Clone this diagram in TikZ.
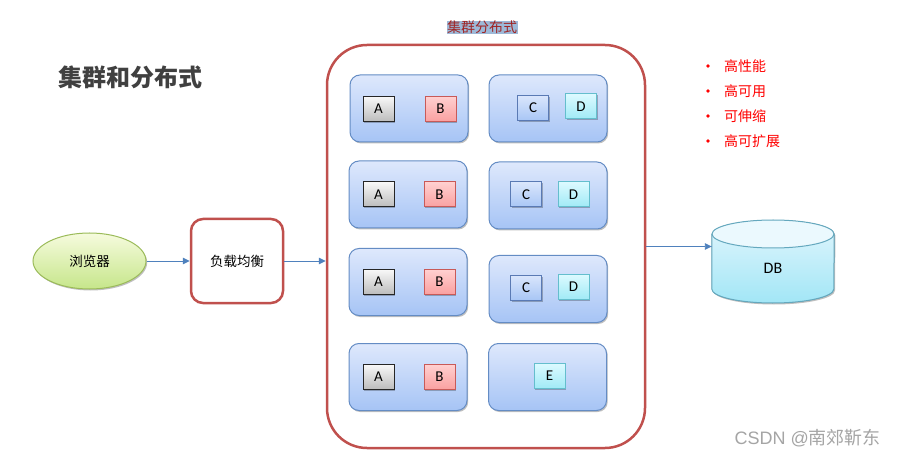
\documentclass[tikz,border=0pt]{standalone}
\usepackage{fontspec}
\setmainfont{Noto Sans CJK SC}
\newfontfamily\latf{Carlito}
\newfontfamily\wmf{Liberation Sans}
\usetikzlibrary{arrows.meta,shadows,shapes.geometric}
\definecolor{redB}{RGB}{192,80,77}
\definecolor{srvT}{RGB}{222,232,252}
\definecolor{srvBot}{RGB}{166,196,245}
\definecolor{srvB}{RGB}{100,140,196}
\definecolor{aT}{RGB}{248,248,248}
\definecolor{aBot}{RGB}{188,188,188}
\definecolor{bT}{RGB}{255,208,208}
\definecolor{bBot}{RGB}{250,160,160}
\definecolor{bB}{RGB}{200,90,88}
\definecolor{cT}{RGB}{218,230,252}
\definecolor{cBot}{RGB}{168,198,245}
\definecolor{cB}{RGB}{90,122,180}
\definecolor{dT}{RGB}{220,250,255}
\definecolor{dBot}{RGB}{160,234,246}
\definecolor{dB}{RGB}{100,190,205}
\definecolor{gT}{RGB}{246,251,222}
\definecolor{gBot}{RGB}{198,230,138}
\definecolor{gB}{RGB}{155,187,89}
\definecolor{dbT}{RGB}{226,246,253}
\definecolor{dbBot}{RGB}{162,230,246}
\definecolor{dbB}{RGB}{100,168,190}
\definecolor{arrowB}{RGB}{79,129,189}
\definecolor{hiBlue}{RGB}{157,185,216}
\definecolor{hiText}{RGB}{160,36,36}
\definecolor{titleG}{RGB}{64,64,64}
\definecolor{wmG}{RGB}{165,165,165}
\begin{document}
\begin{tikzpicture}[x=1pt,y=-1pt,
  soft/.style={drop shadow={shadow xshift=1.2pt,shadow yshift=-1.5pt,opacity=0.25,fill=black}},
  server/.style={soft,draw=srvB,line width=1,rounded corners=10,minimum width=118,minimum height=67,top color=srvT,bottom color=srvBot},
  sbox/.style={soft,line width=1,minimum width=31,minimum height=25,inner sep=0,font=\latf\fontsize{15}{16}\selectfont},
  boxA/.style={sbox,draw=black!85,top color=aT,bottom color=aBot},
  boxB/.style={sbox,draw=bB,top color=bT,bottom color=bBot},
  boxC/.style={sbox,draw=cB,top color=cT,bottom color=cBot},
  boxD/.style={sbox,draw=dB,top color=dT,bottom color=dBot},
  conn/.style={draw=arrowB,line width=0.9,-{Triangle[length=7pt,width=6.5pt]}},
  cn/.style={font=\fontsize{13.5}{15}\selectfont},
  bul/.style={circle,fill=red,inner sep=0,minimum size=3.8},
  bultext/.style={anchor=west,text=red,font=\fontsize{14}{16}\selectfont,inner sep=0}
]
\useasboundingbox (0,0) rectangle (897,457);
\fill[white] (0,0) rectangle (897,457);

% title
\node[font=\bfseries\fontsize{24}{26}\selectfont,text=titleG] (title) at (130.5,77) {集群和分布式};

% container
\node[draw=redB,line width=2.5,rounded corners=40,minimum width=318,minimum height=403] (cont) at (486,246.5) {};
\node[fill=hiBlue,text=hiText,inner sep=0.5,font=\fontsize{14}{15}\selectfont] (ctitle) at (482,27.5) {集群分布式};

% servers
\node[server] (s1l) at (409,108.5) {};
\node[server] (s1r) at (548,108.5) {};
\node[server] (s2l) at (408,194.5) {};
\node[server] (s2r) at (548,195.5) {};
\node[server] (s3l) at (408,282) {};
\node[server] (s3r) at (548,289) {};
\node[server] (s4l) at (408,377) {};
\node[server] (s4r) at (547.5,377) {};

% small boxes
\node[boxA] (a1) at (378.5,109) {A};
\node[boxB] (b1) at (440.5,109) {B};
\node[boxC] (c1) at (533,108) {C};
\node[boxD] (d1) at (581,106.5) {D};
\node[boxA] (a2) at (378.5,194.5) {A};
\node[boxB] (b2) at (439.5,194.5) {B};
\node[boxC] (c2) at (526,194.5) {C};
\node[boxD] (d2) at (573.5,194.5) {D};
\node[boxA] (a3) at (378.5,282) {A};
\node[boxB] (b3) at (439.5,282) {B};
\node[boxC] (c3) at (526,287.5) {C};
\node[boxD] (d3) at (573.5,287) {D};
\node[boxA] (a4) at (378.5,377) {A};
\node[boxB] (b4) at (439.5,377) {B};
\node[boxD] (e4) at (549.5,376) {E};

% browser and load balancer
\node[ellipse,soft,draw=gB,line width=1,top color=gT,bottom color=gBot,minimum width=113,minimum height=56,inner sep=0,cn] (browser) at (89.5,261) {浏览器};
\node[draw=redB,line width=2.5,rounded corners=12,minimum width=92,minimum height=84,fill=white,cn] (lb) at (237,261) {负载均衡};

% DB cylinder
\node[minimum width=122,minimum height=83,inner sep=0] (db) at (773,261.5) {};
\begin{scope}
\fill[soft,top color=dbT,bottom color=dbBot] (db.west |- 0,234) -- (db.west |- 0,289) arc[start angle=180,end angle=0,x radius=61,y radius=14] -- (db.east |- 0,234) arc[start angle=0,end angle=-180,x radius=61,y radius=14] -- cycle;
\draw[dbB,line width=1] (db.west |- 0,234) -- (db.west |- 0,289) arc[start angle=180,end angle=0,x radius=61,y radius=14] -- (db.east |- 0,234);
\draw[dbB,line width=1,fill=dbT!70!white] (db.center |- 0,234) ellipse[x radius=61,y radius=14];
\end{scope}
\node[font=\latf\fontsize{16}{18}\selectfont] (dblabel) at (773,268.5) {DB};

% connectors
\draw[conn] (browser.east) -- (lb.west);
\draw[conn] (lb.east) -- (lb.east -| cont.west);
\draw[conn] (cont.east) -- (cont.east -| db.west);

% bullets
\node[bul] (p1) at (708,66) {};
\node[bultext] (t1) at (724,66) {高性能};
\node[bul] (p2) at (708,91) {};
\node[bultext] (t2) at (724,91) {高可用};
\node[bul] (p3) at (708,116) {};
\node[bultext] (t3) at (724,116) {可伸缩};
\node[bul] (p4) at (708,141) {};
\node[bultext] (t4) at (724,141) {高可扩展};

% watermark
\node[anchor=east,text=wmG,font=\fontsize{18}{20}\selectfont,inner sep=0] (wm) at (881,438) {{\wmf CSDN @}南郊靳东};
\end{tikzpicture}
\end{document}
